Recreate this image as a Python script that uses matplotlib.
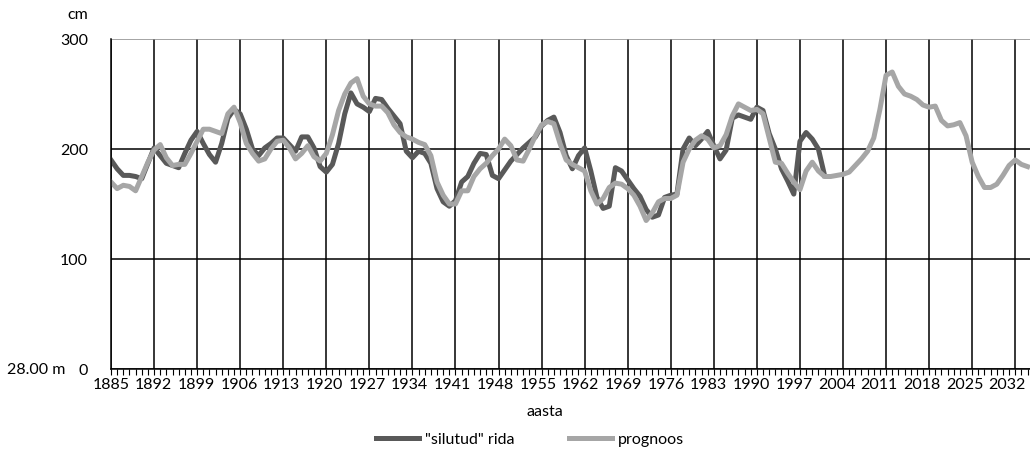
import numpy as np
import matplotlib.pyplot as plt
from matplotlib import transforms

# --- data (cm) ---
years_smooth = np.arange(1885, 2002)
smooth_cm = [
    190, 182, 176, 176, 175, 173, 187, 201, 194, 187,   # 1885-1894
    185, 183, 196, 208, 216, 205, 195, 188, 205, 228,   # 1895-1904
    236, 232, 218, 200, 194, 201, 205, 210, 210, 204,   # 1905-1914
    198, 211, 211, 201, 184, 179, 186, 205, 232, 251,   # 1915-1924
    241, 238, 234, 246, 245, 237, 230, 223, 198, 192,   # 1925-1934
    198, 196, 187, 164, 152, 148, 153, 170, 175, 187,   # 1935-1944
    196, 195, 176, 173, 181, 189, 195, 201, 206, 211,   # 1945-1954
    221, 226, 229, 215, 194, 182, 194, 201, 180, 156,   # 1955-1964
    146, 148, 183, 180, 172, 164, 157, 145, 138, 140,   # 1965-1974
    156, 158, 159, 200, 210, 203, 209, 216, 203, 191,   # 1975-1984
    199, 228, 231, 229, 227, 238, 235, 214, 200, 182,   # 1985-1994
    171, 159, 207, 215, 209, 200, 176,                  # 1995-2001
]

years_fc = np.arange(1885, 2035)
forecast_cm = [
    170, 164, 167, 166, 162, 175, 188, 199, 204, 192,   # 1885-1894
    185, 186, 186, 196, 207, 218, 218, 216, 214, 232,   # 1895-1904
    238, 224, 205, 196, 189, 191, 200, 207, 208, 201,   # 1905-1914
    191, 196, 203, 193, 189, 196, 213, 235, 250, 260,   # 1915-1924
    264, 248, 241, 239, 239, 233, 222, 215, 211, 209,   # 1925-1934
    206, 204, 194, 170, 158, 150, 150, 162, 162, 175,   # 1935-1944
    182, 187, 194, 200, 209, 203, 190, 189, 200, 212,   # 1945-1954
    222, 225, 223, 205, 190, 186, 183, 180, 162, 150,   # 1955-1964
    155, 165, 169, 168, 164, 158, 148, 135, 142, 152,   # 1965-1974
    155, 155, 158, 188, 200, 208, 212, 209, 201, 203,   # 1975-1984
    213, 230, 241, 238, 235, 236, 232, 210, 188, 187,   # 1985-1994
    178, 170, 163, 180, 188, 180, 175, 175, 176, 177,   # 1995-2004
    179, 185, 191, 198, 210, 236, 267, 270, 257, 250,   # 2005-2014
    248, 245, 240, 238, 239, 226, 221, 222, 224, 212,   # 2015-2024
    188, 175, 165, 165, 168, 176, 185, 190, 186, 184,   # 2025-2034
]

y_ticks = [0, 100, 200, 300]
x_major = np.arange(1885, 2033, 7)

plt.rcParams['font.family'] = ['Lato', 'DejaVu Sans']
FS = 11.5

W, H = 1030, 452
fig = plt.figure(figsize=(W / 100, H / 100), dpi=100)
ax = fig.add_axes([111 / W, 82 / H, 919 / W, 330 / H])

ax.plot(years_smooth, smooth_cm, color='#595959', lw=3.6, label='"silutud" rida')
ax.plot(years_fc, forecast_cm, color='#a6a6a6', lw=3.6, label='prognoos')

ax.set_xlim(1885, 2034.4)
ax.set_ylim(0, 300)
ax.set_xticks(x_major)
ax.set_xticks(np.arange(1885, 2035), minor=True)
ax.set_yticks(y_ticks)

ax.grid(True, color='black', lw=1.1)
ax.set_axisbelow(True)
ax.get_ygridlines()[-1].set_color('#8c8c8c')

for s in ['top', 'right']:
    ax.spines[s].set_visible(False)
for s in ['left', 'bottom']:
    ax.spines[s].set_color('black')
    ax.spines[s].set_linewidth(1.1)

ax.tick_params(axis='x', which='both', direction='out', length=4, width=0.8,
               color='black', labelbottom=False)
ax.tick_params(axis='y', length=0, pad=16.5, labelsize=FS)

# year labels drift slightly left of their gridlines, like in the original
base = transforms.blended_transform_factory(ax.transData, ax.transAxes)
for yr in x_major:
    dx = -8 * (yr - 1885) / 147
    tr = base + transforms.ScaledTranslation(dx / 100, -15 / 100, fig.dpi_scale_trans)
    ax.text(yr, 0, str(yr), transform=tr, ha='center', va='center', fontsize=FS)

fig.text(88 / W, 1 - 15 / H, 'cm', ha='right', va='center', fontsize=FS)
fig.text(65 / W, 1 - 370 / H, '28.00 m', ha='right', va='center', fontsize=FS)
fig.text(545 / W, 1 - 412 / H, 'aasta', ha='center', va='center', fontsize=FS)

fig.legend(loc='center', bbox_to_anchor=(530 / W, 1 - 440 / H), ncol=2,
           frameon=False, fontsize=FS, handlelength=2.7, handletextpad=0.4,
           columnspacing=3.4)

fig.savefig('out.png', dpi=100)
